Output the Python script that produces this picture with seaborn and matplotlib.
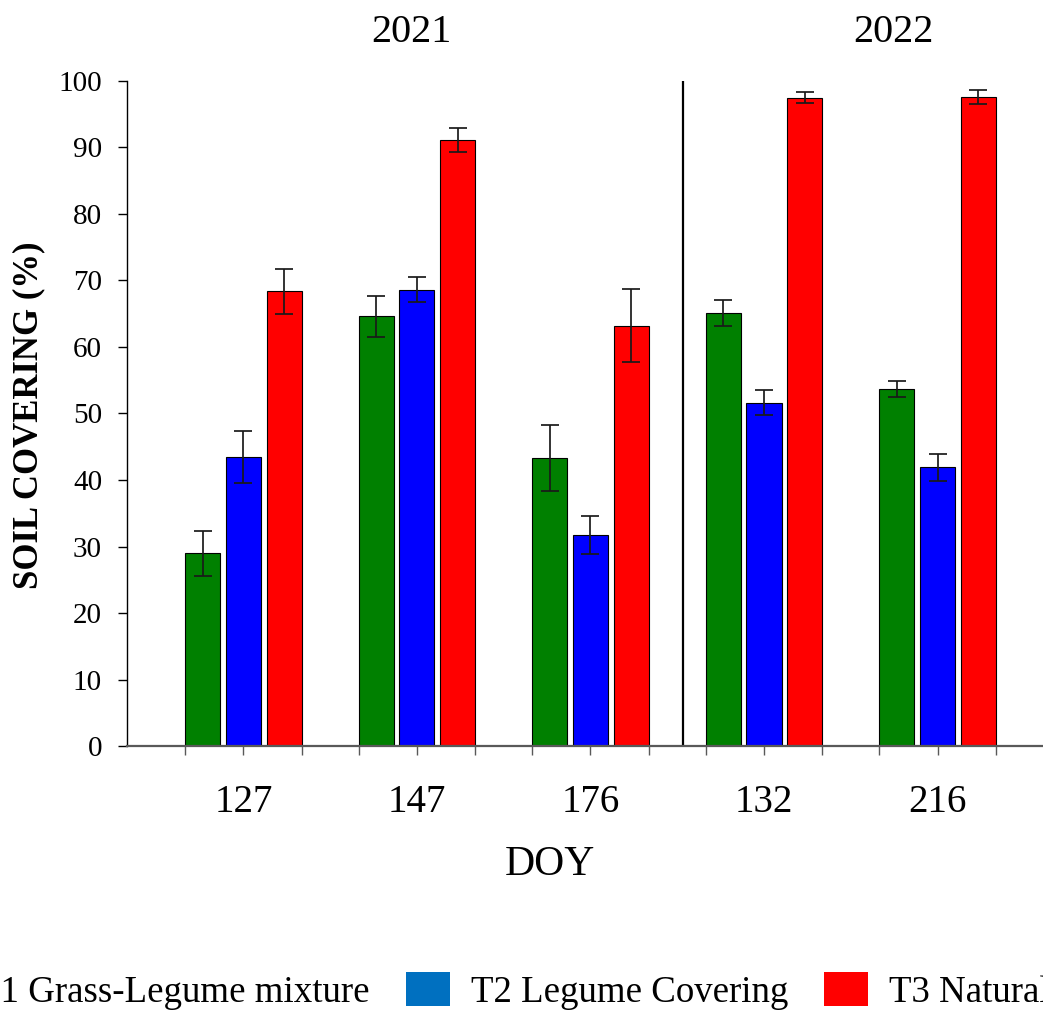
import matplotlib
matplotlib.use("Agg")
import matplotlib.pyplot as plt
import matplotlib.transforms as mtransforms
from matplotlib.patches import Patch
import numpy as np
import pandas as pd
import seaborn as sns

# Day of year for each sampling date (2021: first three, 2022: last two)
doy = ["127", "147", "176", "132", "216"]
treatments = ["T1 Grass-Legume mixture", "T2 Legume Covering", "T3 Natural Covering"]

# Mean soil covering (%) and standard errors per treatment
t1_mean = [29.0, 64.6, 43.3, 65.1, 53.7]
t1_err = [3.4, 3.1, 4.9, 2.0, 1.2]
t2_mean = [43.5, 68.6, 31.7, 51.6, 41.9]
t2_err = [3.9, 1.9, 2.9, 1.9, 2.0]
t3_mean = [68.4, 91.1, 63.2, 97.5, 97.6]
t3_err = [3.4, 1.8, 5.5, 0.8, 1.0]

bar_colors = ["#008000", "#0000FF", "#FF0000"]
legend_colors = ["#00B050", "#0070C0", "#FF0000"]
years = ["2021", "2022"]

df = pd.DataFrame({
    "DOY": doy * 3,
    "treatment": [t for t in treatments for _ in doy],
    "cover": t1_mean + t2_mean + t3_mean,
})
errors = [t1_err, t2_err, t3_err]

sns.set_style("ticks")
plt.rcParams["font.family"] = ["Liberation Serif", "DejaVu Serif"]
plt.rcParams["text.color"] = "black"
plt.rcParams["axes.labelcolor"] = "black"
plt.rcParams["xtick.labelcolor"] = "black"
plt.rcParams["ytick.labelcolor"] = "black"

fig = plt.figure(figsize=(10.43, 10.11), dpi=100)
ax = fig.add_axes([0.1218, 0.2621, 0.8782, 0.6578])

sns.barplot(data=df, x="DOY", y="cover", hue="treatment", order=doy,
            hue_order=treatments, palette=bar_colors, saturation=1,
            width=0.705, gap=0.141, edgecolor="black", linewidth=0.8,
            errorbar=None, legend=False, ax=ax)

# Error bars on top of each bar
for cont, err in zip(ax.containers, errors):
    xs = [b.get_x() + b.get_width() / 2 for b in cont]
    ys = [b.get_height() for b in cont]
    ax.errorbar(xs, ys, yerr=err, fmt="none", ecolor="#1a1a1a",
                elinewidth=1.25, capsize=6.8, capthick=1.25, zorder=5)

ax.set_xlim(-0.671, 4.608)
ax.set_ylim(0, 100)
ax.set_yticks(np.arange(0, 101, 10))

# Vertical separator between the two years
ax.axvline(2.531, ymin=0, ymax=1, color="black", lw=1.6)

for s in ["top", "right"]:
    ax.spines[s].set_visible(False)
ax.spines["left"].set_color("black")
ax.spines["left"].set_linewidth(1.0)
ax.spines["bottom"].set_color("#595959")
ax.spines["bottom"].set_linewidth(1.6)

# Major ticks at group centres, minor ticks at the group edges
centers = np.arange(len(doy))
ax.set_xticks(centers)
ax.set_xticklabels(doy)
ax.set_xticks(np.concatenate([centers - 0.337, centers + 0.337]), minor=True)
ax.tick_params(axis="x", which="both", direction="out", length=6.5, width=1.0,
               color="#595959", pad=21)
ax.tick_params(axis="x", which="major", labelsize=28)
ax.tick_params(axis="y", direction="out", length=6.5, width=1.0, color="black",
               pad=11.5, labelsize=21)

ax.set_xlabel("DOY", fontsize=30)
ax.xaxis.set_label_coords(0.4618, -0.194)
ax.xaxis.label.set_verticalalignment("baseline")

ax.set_ylabel("SOIL COVERING (%)", fontsize=25, fontweight="bold")
ax.yaxis.set_label_coords(-0.1075, 0.497)
ax.yaxis.label.set_verticalalignment("center")

trans = mtransforms.blended_transform_factory(ax.transData, ax.transAxes)
ax.text(0.966, 1.0586, years[0], transform=trans, ha="center", va="baseline", fontsize=29)
ax.text(3.747, 1.0586, years[1], transform=trans, ha="center", va="baseline", fontsize=29)

handles = [Patch(facecolor=c, edgecolor="none") for c in legend_colors]
leg = fig.legend(handles, treatments, ncol=3, loc="center",
                 bbox_to_anchor=(0.5, 0.022), frameon=False, fontsize=26.6,
                 handlelength=1.18, handleheight=1.08, handletextpad=0.57,
                 columnspacing=0.98)

# Shift the legend so that the entries sit at their intended place
fig.canvas.draw()
renderer = fig.canvas.get_renderer()
hb = leg.legend_handles[1].get_window_extent(renderer)
W, H = fig.bbox.width, fig.bbox.height
dx = 406 - hb.x0
dy = (H - 989) - (hb.y0 + hb.y1) / 2
leg.set_bbox_to_anchor((0.5 + dx / W, 0.022 + dy / H), transform=fig.transFigure)

fig.savefig("out.png", dpi=100)
